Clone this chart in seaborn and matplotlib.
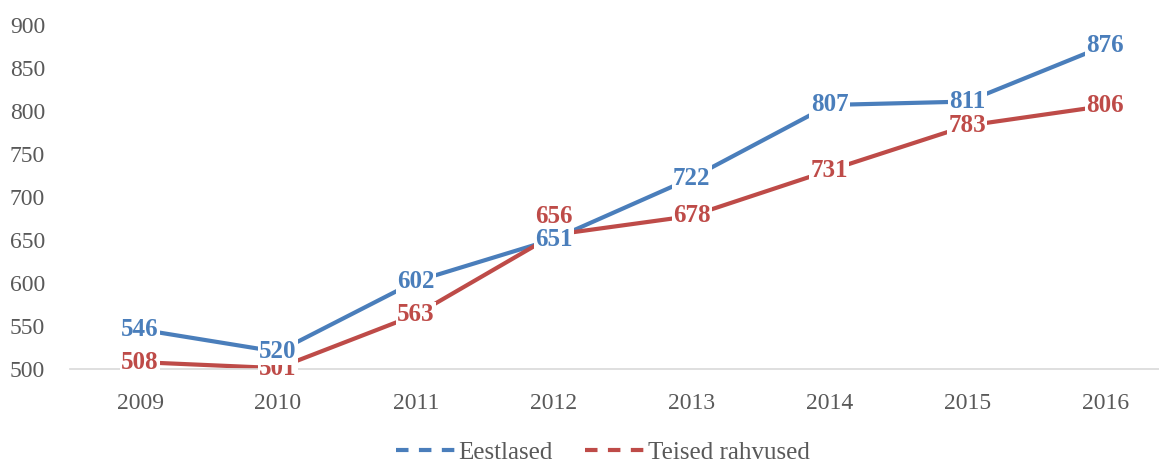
import matplotlib.pyplot as plt
import pandas as pd
import seaborn as sns
from matplotlib.lines import Line2D

years = ["2009", "2010", "2011", "2012", "2013", "2014", "2015", "2016"]
eestlased = [546, 520, 602, 651, 722, 807, 811, 876]
teised = [508, 501, 563, 656, 678, 731, 783, 806]
series_names = ["Eestlased", "Teised rahvused"]
colors = {"Eestlased": "#4A7EBB", "Teised rahvused": "#BE4B48"}

df = pd.DataFrame({
    "year": years * 2,
    "value": eestlased + teised,
    "group": [series_names[0]] * len(years) + [series_names[1]] * len(years),
})

sns.set_theme(style="white")
plt.rcParams["font.family"] = ["Liberation Serif", "DejaVu Serif"]

fig, ax = plt.subplots(figsize=(11.59, 4.68), dpi=100)
sns.lineplot(data=df, x="year", y="value", hue="group", palette=colors,
             linewidth=3, ax=ax, legend=False, sort=False)

# data labels centred on the points, white box behind; 2012 red label nudged up
for name in [series_names[1], series_names[0]]:
    sub = df[df["group"] == name].reset_index(drop=True)
    for i, row in sub.iterrows():
        dy = 13 if (name == series_names[1] and i == 3) else 0
        ax.annotate(str(row["value"]), (i, row["value"]), xytext=(0, dy),
                    textcoords="offset points", ha="center", va="center",
                    fontsize=18, fontweight="bold", color=colors[name],
                    bbox=dict(boxstyle="square,pad=0.05", fc="white", ec="none"),
                    zorder=5)

ax.set_ylim(500, 900)
ax.set_yticks(range(500, 901, 50))
ax.set_xlim(-0.508, 7.39)
ax.set_xlabel("")
ax.set_ylabel("")
for s in ["top", "right", "left"]:
    ax.spines[s].set_visible(False)
ax.spines["bottom"].set_color("#D9D9D9")
ax.spines["bottom"].set_linewidth(1.2)
ax.tick_params(axis="both", length=0, labelsize=17, labelcolor="#595959")
ax.tick_params(axis="x", pad=17)
ax.tick_params(axis="y", pad=18)

handles = [Line2D([0], [0], color=colors[n], lw=3, dashes=(3, 2.5)) for n in series_names]
fig.legend(handles, series_names, loc="lower center", ncol=2, frameon=False,
           fontsize=18, labelcolor="#595959", handlelength=2.4, handletextpad=0.1,
           columnspacing=1.3, bbox_to_anchor=(0.52, -0.04))

fig.subplots_adjust(left=0.0604, right=1.0, top=0.9466, bottom=0.2115)
fig.savefig("out.png", dpi=100)
